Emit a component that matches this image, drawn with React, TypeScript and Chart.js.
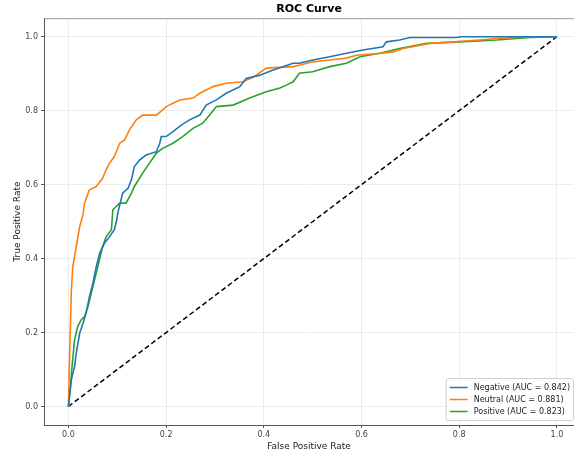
import React, { useEffect, useRef } from "react";
import { Chart, registerables } from "chart.js";

Chart.register(...registerables);

const FONT = "'DejaVu Sans', sans-serif";

const negFpr = [0, 0.006, 0.0125, 0.016, 0.023, 0.03, 0.036, 0.043, 0.05, 0.057, 0.064, 0.074, 0.084, 0.094, 0.099, 0.101, 0.111, 0.122, 0.129, 0.135, 0.146, 0.159, 0.18, 0.187, 0.19, 0.2, 0.214, 0.231, 0.248, 0.269, 0.282, 0.303, 0.323, 0.351, 0.364, 0.392, 0.419, 0.46, 0.473, 0.5, 0.535, 0.569, 0.603, 0.644, 0.651, 0.678, 0.699, 0.795, 0.805, 1.0];
const negTpr = [0, 0.072, 0.108, 0.144, 0.198, 0.225, 0.252, 0.297, 0.333, 0.378, 0.415, 0.442, 0.459, 0.478, 0.505, 0.523, 0.577, 0.59, 0.613, 0.649, 0.667, 0.68, 0.689, 0.712, 0.73, 0.73, 0.743, 0.761, 0.775, 0.788, 0.815, 0.829, 0.847, 0.865, 0.887, 0.896, 0.91, 0.928, 0.928, 0.937, 0.946, 0.955, 0.964, 0.973, 0.986, 0.991, 0.998, 0.998, 1.0, 1.0];

const neuFpr = [0, 0.002, 0.004, 0.006, 0.009, 0.016, 0.023, 0.03, 0.033, 0.043, 0.057, 0.07, 0.077, 0.084, 0.094, 0.105, 0.115, 0.125, 0.139, 0.152, 0.18, 0.193, 0.2, 0.228, 0.255, 0.269, 0.296, 0.323, 0.357, 0.378, 0.405, 0.46, 0.473, 0.5, 0.535, 0.569, 0.59, 0.637, 0.665, 0.685, 0.74, 0.788, 0.842, 0.877, 0.945, 1.0];
const neuTpr = [0, 0.118, 0.216, 0.315, 0.378, 0.432, 0.486, 0.52, 0.55, 0.586, 0.595, 0.617, 0.64, 0.658, 0.676, 0.712, 0.721, 0.748, 0.775, 0.788, 0.788, 0.802, 0.811, 0.829, 0.834, 0.847, 0.865, 0.874, 0.878, 0.89, 0.915, 0.919, 0.923, 0.932, 0.937, 0.942, 0.95, 0.955, 0.959, 0.968, 0.982, 0.986, 0.991, 0.995, 1.0, 1.0];

const posFpr = [0, 0.004, 0.008, 0.0125, 0.019, 0.026, 0.033, 0.04, 0.05, 0.06, 0.07, 0.077, 0.088, 0.091, 0.105, 0.118, 0.129, 0.135, 0.152, 0.166, 0.18, 0.193, 0.214, 0.234, 0.255, 0.275, 0.289, 0.303, 0.337, 0.371, 0.405, 0.433, 0.446, 0.46, 0.473, 0.5, 0.535, 0.569, 0.597, 0.637, 0.678, 0.733, 0.801, 0.877, 0.945, 1.0];
const posTpr = [0, 0.054, 0.117, 0.18, 0.216, 0.234, 0.243, 0.27, 0.324, 0.378, 0.432, 0.459, 0.478, 0.532, 0.55, 0.55, 0.577, 0.595, 0.631, 0.658, 0.685, 0.698, 0.712, 0.73, 0.752, 0.766, 0.788, 0.811, 0.815, 0.834, 0.851, 0.861, 0.869, 0.878, 0.901, 0.905, 0.919, 0.928, 0.946, 0.955, 0.968, 0.982, 0.986, 0.991, 0.998, 1.0];

const diagX = [0, 1];
const diagY = [0, 1];

const seriesLabels = ["Negative (AUC = 0.842)", "Neutral (AUC = 0.881)", "Positive (AUC = 0.823)"];
const seriesColors = ["#1f77b4", "#ff7f0e", "#2ca02c"];

const toPts = (xs: number[], ys: number[]) => xs.map((x, i) => ({ x, y: ys[i] }));

const framePlugin = {
  id: "frame",
  afterDatasetsDraw(chart: any) {
    const { ctx, chartArea } = chart;
    ctx.save();
    ctx.strokeStyle = "#999";
    ctx.lineWidth = 1;
    ctx.beginPath();
    ctx.moveTo(chartArea.left, chartArea.top + 0.5);
    ctx.lineTo(chartArea.right, chartArea.top + 0.5);
    ctx.stroke();
    ctx.restore();
  },
};

const legendPlugin = {
  id: "boxLegend",
  afterDraw(chart: any) {
    const { ctx, chartArea } = chart;
    const ds = chart.data.datasets.filter((d: any) => !d.hideInLegend);
    ctx.save();
    ctx.font = `8px ${FONT}`;
    const rowH = 12;
    const textW = Math.max(...ds.map((d: any) => ctx.measureText(d.label).width));
    const w = 4 + 18 + 6 + textW + 3;
    const h = ds.length * rowH + 6;
    const right = chartArea.right - 1;
    const bottom = chartArea.bottom - 5;
    const left = right - w;
    const top = bottom - h;
    ctx.fillStyle = "rgba(255,255,255,0.85)";
    ctx.strokeStyle = "#d0d0d0";
    ctx.lineWidth = 1;
    ctx.beginPath();
    (ctx as any).roundRect(left + 0.5, top + 0.5, w, h, 2);
    ctx.fill();
    ctx.stroke();
    ds.forEach((d: any, i: number) => {
      const y = top + 3 + rowH * i + rowH / 2 + 0.5;
      ctx.strokeStyle = d.borderColor;
      ctx.lineWidth = 1.5;
      ctx.beginPath();
      ctx.moveTo(left + 4, y);
      ctx.lineTo(left + 22, y);
      ctx.stroke();
      ctx.fillStyle = "#222";
      ctx.textBaseline = "middle";
      ctx.textAlign = "left";
      ctx.fillText(d.label, left + 28, y);
    });
    ctx.restore();
  },
};

export default function App() {
  const ref = useRef<HTMLCanvasElement>(null);
  useEffect(() => {
    const tickFont = { family: FONT, size: 8 };
    const chart = new Chart(ref.current!, {
      type: "line",
      data: {
        datasets: [
          { label: seriesLabels[0], data: toPts(negFpr, negTpr), borderColor: seriesColors[0], backgroundColor: seriesColors[0], borderWidth: 1.6, pointRadius: 0, tension: 0 },
          { label: seriesLabels[1], data: toPts(neuFpr, neuTpr), borderColor: seriesColors[1], backgroundColor: seriesColors[1], borderWidth: 1.6, pointRadius: 0, tension: 0 },
          { label: seriesLabels[2], data: toPts(posFpr, posTpr), borderColor: seriesColors[2], backgroundColor: seriesColors[2], borderWidth: 1.6, pointRadius: 0, tension: 0 },
          { label: "Random", data: toPts(diagX, diagY), borderColor: "#000", borderWidth: 1.5, borderDash: [5, 3], pointRadius: 0, hideInLegend: true } as any,
        ],
      },
      options: {
        animation: false,
        responsive: true,
        maintainAspectRatio: false,
        layout: { padding: 0 },
        plugins: {
          legend: { display: false },
          tooltip: { enabled: false },
          title: {
            display: true,
            text: "ROC Curve",
            fullSize: false,
            color: "#000",
            font: { family: FONT, size: 11, weight: "bold" },
            padding: { top: 3, bottom: 2 },
          },
        },
        scales: {
          x: {
            type: "linear",
            min: -0.05,
            max: 1.035,
            ticks: { stepSize: 0.2, includeBounds: false, color: "#444", font: tickFont, padding: 2, maxRotation: 0, callback: (v: any) => Number(v).toFixed(1) },
            grid: { color: "#ececec", lineWidth: 1, tickLength: 3, tickColor: "#555" },
            border: { color: "#555", width: 1 },
            title: { display: true, text: "False Positive Rate", color: "#222", font: { family: FONT, size: 9 }, padding: { top: 0, bottom: 4 } },
            afterFit: (s: any) => { s.height = 31; },
          },
          y: {
            type: "linear",
            min: -0.05,
            max: 1.05,
            ticks: { stepSize: 0.2, includeBounds: false, color: "#444", font: tickFont, padding: 3, callback: (v: any) => Number(v).toFixed(1) },
            grid: { color: "#ececec", lineWidth: 1, tickLength: 3, tickColor: "#555" },
            border: { color: "#555", width: 1 },
            title: { display: true, text: "True Positive Rate", color: "#222", font: { family: FONT, size: 9 }, padding: { top: 12, bottom: 0 } },
            afterFit: (s: any) => { s.width = 44; },
          },
        },
      },
      plugins: [framePlugin, legendPlugin],
    });
    return () => chart.destroy();
  }, []);
  return (
    <div style={{ position: "absolute", left: 0, top: 0, width: 574, height: 456, background: "#fff" }}>
      <canvas ref={ref} />
    </div>
  );
}
